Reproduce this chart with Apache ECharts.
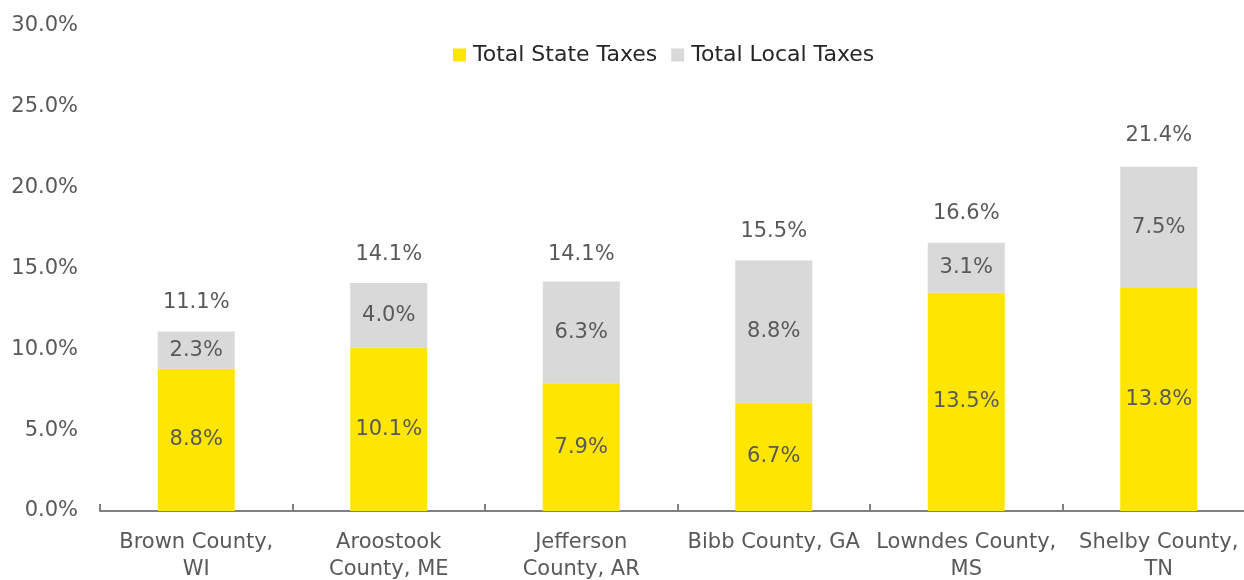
<!DOCTYPE html>
<html>
<head>
<meta charset="utf-8">
<script src="https://cdn.jsdelivr.net/npm/echarts@6/dist/echarts.min.js"></script>
<style>html,body{margin:0;padding:0;background:#fff;}#c{width:1244px;height:580px;}</style>
</head>
<body>
<div id="c"></div>
<script>
const categories = ["Brown County,\nWI", "Aroostook\nCounty, ME", "Jefferson\nCounty, AR", "Bibb County, GA", "Lowndes County,\nMS", "Shelby County,\nTN"];
const stateTaxes = [8.8, 10.1, 7.9, 6.7, 13.5, 13.8];
const localTaxes = [2.3, 4.0, 6.3, 8.8, 3.1, 7.5];
const totalTaxes = [11.1, 14.1, 14.1, 15.5, 16.6, 21.4];
const yTicks = [0, 5, 10, 15, 20, 25, 30];

const FONT = "'DejaVu Sans', sans-serif";
const chart = echarts.init(document.getElementById('c'));
const labelStyle = {show: true, color: '#595959', fontSize: 21, fontFamily: FONT, formatter: p => p.value.toFixed(1) + '%'};
chart.setOption({
  animation: false,
  textStyle: {fontFamily: FONT},
  legend: {
    top: 44, left: 453, padding: 0,
    data: ['Total State Taxes', 'Total Local Taxes'],
    itemWidth: 13, itemHeight: 13, itemGap: 14,
    icon: 'rect',
    textStyle: {color: '#262626', fontSize: 22, fontFamily: FONT, padding: [0,0,0,2]}
  },
  grid: {left: 100, top: 26, width: 1155, bottom: 69, containLabel: false, outerBoundsMode: 'none'},
  xAxis: {
    type: 'category', data: categories,
    axisLine: {lineStyle: {color: '#808080', width: 2}},
    axisTick: {show: true, inside: true, length: 7, lineStyle: {color: '#808080', width: 2}},
    axisLabel: {color: '#595959', fontSize: 21, fontFamily: FONT, lineHeight: 27, margin: 18, interval: 0}
  },
  yAxis: {
    type: 'value', min: 0, max: 30, interval: 5,
    axisLine: {show: false}, axisTick: {show: false}, splitLine: {show: false},
    axisLabel: {color: '#595959', fontSize: 21, fontFamily: FONT, margin: 22, formatter: v => v.toFixed(1) + '%'}
  },
  series: [
    {name: 'Total State Taxes', type: 'bar', stack: 't', data: stateTaxes, barWidth: 77,
     itemStyle: {color: '#FFE600'}, label: Object.assign({position: 'inside'}, labelStyle)},
    {name: 'Total Local Taxes', type: 'bar', stack: 't', data: localTaxes, barWidth: 77,
     itemStyle: {color: '#D9D9D9'}, label: Object.assign({position: 'inside'}, labelStyle)},
    {name: 'Total', type: 'line', data: totalTaxes, symbol: 'circle', symbolSize: 1, showSymbol: true, silent: true,
     lineStyle: {opacity: 0}, itemStyle: {color: 'rgba(0,0,0,0)'},
     label: Object.assign({position: 'top', distance: 18}, labelStyle)}
  ]
});
</script>
</body>
</html>
